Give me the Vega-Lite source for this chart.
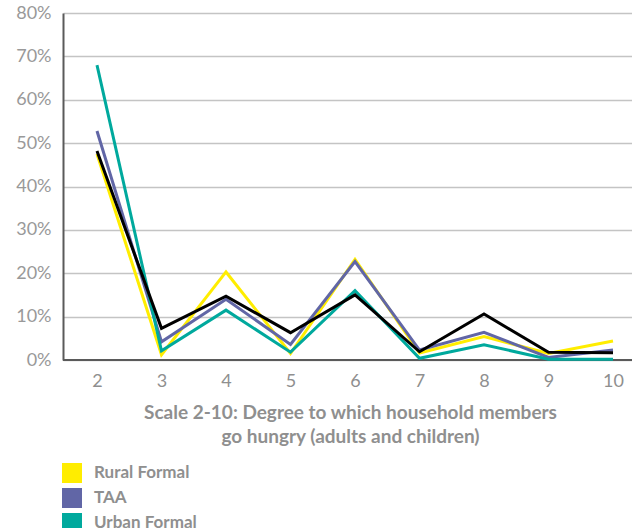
{
  "$schema": "https://vega.github.io/schema/vega-lite/v6.json",
  "autosize": "none",
  "width": 584,
  "height": 347,
  "padding": {"left": 63, "top": 13, "right": 0, "bottom": 168},
  "background": "white",
  "config": {
    "font": "Lato",
    "view": {"stroke": null}
  },
  "data": {
    "values": [
      {"scale": "2", "group": "Rural Formal", "share": 0.475},
      {"scale": "3", "group": "Rural Formal", "share": 0.012},
      {"scale": "4", "group": "Rural Formal", "share": 0.203},
      {"scale": "5", "group": "Rural Formal", "share": 0.015},
      {"scale": "6", "group": "Rural Formal", "share": 0.232},
      {"scale": "7", "group": "Rural Formal", "share": 0.016},
      {"scale": "8", "group": "Rural Formal", "share": 0.054},
      {"scale": "9", "group": "Rural Formal", "share": 0.015},
      {"scale": "10", "group": "Rural Formal", "share": 0.044},
      {"scale": "2", "group": "TAA", "share": 0.528},
      {"scale": "3", "group": "TAA", "share": 0.042},
      {"scale": "4", "group": "TAA", "share": 0.140},
      {"scale": "5", "group": "TAA", "share": 0.036},
      {"scale": "6", "group": "TAA", "share": 0.227},
      {"scale": "7", "group": "TAA", "share": 0.023},
      {"scale": "8", "group": "TAA", "share": 0.064},
      {"scale": "9", "group": "TAA", "share": 0.006},
      {"scale": "10", "group": "TAA", "share": 0.023},
      {"scale": "2", "group": "Urban Formal", "share": 0.680},
      {"scale": "3", "group": "Urban Formal", "share": 0.021},
      {"scale": "4", "group": "Urban Formal", "share": 0.115},
      {"scale": "5", "group": "Urban Formal", "share": 0.018},
      {"scale": "6", "group": "Urban Formal", "share": 0.160},
      {"scale": "7", "group": "Urban Formal", "share": 0.004},
      {"scale": "8", "group": "Urban Formal", "share": 0.035},
      {"scale": "9", "group": "Urban Formal", "share": 0.002},
      {"scale": "10", "group": "Urban Formal", "share": 0.002},
      {"scale": "2", "group": "Total", "share": 0.482},
      {"scale": "3", "group": "Total", "share": 0.073},
      {"scale": "4", "group": "Total", "share": 0.147},
      {"scale": "5", "group": "Total", "share": 0.063},
      {"scale": "6", "group": "Total", "share": 0.150},
      {"scale": "7", "group": "Total", "share": 0.019},
      {"scale": "8", "group": "Total", "share": 0.106},
      {"scale": "9", "group": "Total", "share": 0.018},
      {"scale": "10", "group": "Total", "share": 0.017}
    ]
  },
  "encoding": {
    "x": {
      "field": "scale",
      "type": "ordinal",
      "sort": ["2", "3", "4", "5", "6", "7", "8", "9", "10"],
      "scale": {"type": "point", "padding": 0.527},
      "axis": {
        "title": ["Scale 2-10: Degree to which household members", "go hungry (adults and children)"],
        "titleFont": "Lato",
        "titleFontSize": 19,
        "titleFontWeight": "bold",
        "titleColor": "#8f8f8f",
        "titleLineHeight": 24,
        "titlePadding": 13,
        "titleX": 287,
        "labelAngle": 0,
        "labelFontSize": 18,
        "labelColor": "#8f8f8f",
        "labelPadding": 12,
        "ticks": false,
        "domain": false,
        "grid": false
      }
    },
    "y": {
      "field": "share",
      "type": "quantitative",
      "scale": {"domain": [0, 0.8], "nice": false},
      "axis": {
        "title": null,
        "format": ".0%",
        "values": [0, 0.1, 0.2, 0.3, 0.4, 0.5, 0.6, 0.7, 0.8],
        "labelFontSize": 18,
        "labelColor": "#999999",
        "labelPadding": 12,
        "ticks": false,
        "domain": true,
        "domainColor": "#5a5a5a",
        "domainWidth": 2,
        "grid": true,
        "gridColor": "#c4c4c4",
        "gridWidth": 1.5
      }
    }
  },
  "layer": [
    {
      "mark": {"type": "rule", "color": "#5a5a5a", "strokeWidth": 2},
      "encoding": {
        "y": {"datum": 0},
        "x": null
      }
    },
    {
      "transform": [{"filter": "datum.group !== 'Total'"}],
      "mark": {"type": "line", "strokeWidth": 3},
      "encoding": {
        "color": {
          "field": "group",
          "type": "nominal",
          "scale": {
            "domain": ["Rural Formal", "TAA", "Urban Formal"],
            "range": ["#ffed00", "#6166a6", "#00a99d"]
          },
          "legend": {
            "title": null,
            "orient": "none",
            "legendX": -1,
            "legendY": 450,
            "symbolType": "square",
            "symbolSize": 400,
            "symbolStrokeWidth": 0,
            "rowPadding": 5,
            "labelOffset": 12,
            "labelFont": "Lato",
            "labelFontSize": 17,
            "labelFontWeight": "bold",
            "labelColor": "#8f8f8f",
            "encode": {
              "symbols": {
                "update": {
                  "fill": {"scale": "color", "field": "value"},
                  "fillOpacity": {"value": 1},
                  "strokeWidth": {"value": 0}
                }
              }
            }
          }
        }
      }
    },
    {
      "transform": [{"filter": "datum.group === 'Total'"}],
      "mark": {"type": "line", "strokeWidth": 3, "color": "#000000"}
    }
  ]
}
